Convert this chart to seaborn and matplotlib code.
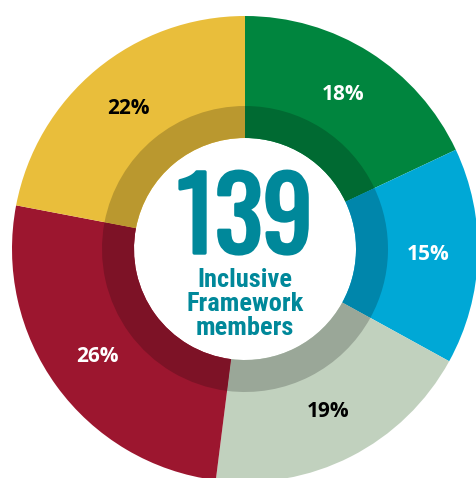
import numpy as np
import seaborn as sns
import matplotlib.pyplot as plt
import matplotlib.patheffects as pe

# shares of the 139 Inclusive Framework members, clockwise from the top
shares = [18, 15, 19, 26, 22]
slice_colours = ['#00853E', '#00A8D6', '#C1D1BE', '#9C162F', '#E9BE3B']
label_colours = ['white', 'white', 'black', 'white', 'black']
total_members = '139'
centre_lines = ['Inclusive', 'Framework', 'members']

sns.set_style('white')
teal = '#00889A'


def darker(colours, factor=0.8):
    return [tuple(c * factor for c in rgb) for rgb in sns.color_palette(colours)]


fig = plt.figure(figsize=(4.76, 4.78), dpi=100)
ax = fig.add_axes([0, 0, 1, 1])

outer_r = 1.0
band_r = 143 / 233
hole_r = 111 / 233

wedges, _, pct_texts = ax.pie(shares, colors=sns.color_palette(slice_colours), startangle=90,
                              counterclock=False, radius=outer_r, autopct='%d%%', pctdistance=0.785,
                              wedgeprops=dict(width=outer_r - hole_r, linewidth=0))
for t, c in zip(pct_texts, label_colours):
    t.set_color(c)
    t.set_fontsize(15)
    t.set_fontweight('bold')
    t.set_family(['Open Sans', 'DejaVu Sans'])

# darker inner band
ax.pie(shares, colors=darker(slice_colours), startangle=90, counterclock=False, radius=band_r,
       wedgeprops=dict(width=band_r - hole_r, linewidth=0))

# big number, thickened a little with a stroke of the same colour
ax.text(0, -0.017, total_members, ha='center', va='baseline', color=teal, fontsize=72,
        family=['Oswald', 'Barlow Condensed', 'DejaVu Sans'],
        path_effects=[pe.withStroke(linewidth=2.5, foreground=teal)])
ax.text(0, -0.236, '\n'.join(centre_lines), ha='center', va='center', color=teal, fontsize=19,
        fontweight='bold', family=['Roboto Condensed', 'Barlow Condensed', 'DejaVu Sans'],
        linespacing=1.0)

ax.set_aspect('auto')
ax.set_xlim(-245 / 233, 231 / 233)
ax.set_ylim(-229 / 233, 249 / 233)
ax.axis('off')

fig.savefig('out.png', dpi=100)
